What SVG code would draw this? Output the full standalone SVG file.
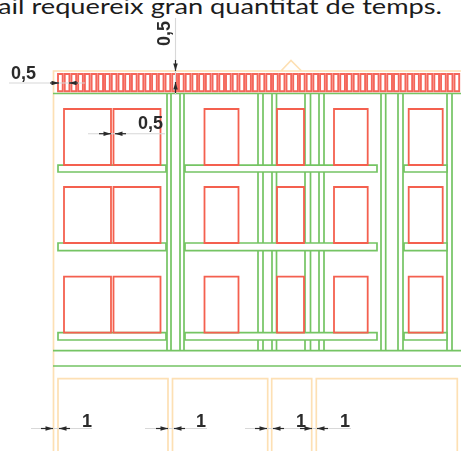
<svg xmlns="http://www.w3.org/2000/svg" width="461" height="451" viewBox="0 0 461 451">
<defs>
<marker id="ah" viewBox="0 0 10 6" refX="10" refY="3" markerWidth="9" markerHeight="4.500" markerUnits="userSpaceOnUse" orient="auto"><path d="M0 0L10 3L0 6Z" fill="#2b2b2b"/></marker>
<path id="tile" d="M0 0h4.720v17.200h-4.720z"/>
<filter id="soft" x="-5%" y="-5%" width="110%" height="110%"><feGaussianBlur stdDeviation="0.4"/></filter>
</defs>
<style>
.o{fill:none;stroke:#fde0b4;stroke-width:1.7}
.g{fill:none;stroke:#74c463;stroke-width:1.7}
.b{fill:#fff;stroke:#74c463;stroke-width:1.7}
.r{fill:none;stroke:#f4604f;stroke-width:1.8}
.t{fill:#fff;stroke:#f4665a;stroke-width:1.9}
.d{stroke:#d8d8d8;stroke-width:1.100;fill:none}
.a{stroke:#2b2b2b;stroke-width:1.200;fill:none;marker-end:url(#ah)}
.l{font-family:"Liberation Sans",Arial,sans-serif;font-weight:700;font-size:18px;fill:#2b2b2b}
</style>
<rect width="461" height="451" fill="#fff"/>
<text x="-2" y="14" font-family="Lato,'Open Sans',sans-serif" font-size="22" fill="#1c1c1c" textLength="444" lengthAdjust="spacingAndGlyphs">ail requereix gran quantitat de temps.</text>
<g filter="url(#soft)">
<g id="facade-outline">
<path class="o" d="M53.500 451V71H461M281 71L291 60.500L301.500 71"/>
<path class="o" d="M58 451V378.700H168V451M172.500 451V378.700H267.700V451M271.700 451V378.700H311.700V451M316.300 451V378.700H457.300V451"/>
</g>
<g id="structure">
<path class="g" d="M53 93.500H461M53 350.700H461M53 366H461"/>
<path class="g" d="M167 94V351M171 94V351M180 94V351M184 94V351M258 94V351M263 94V351M272 94V351M276.500 94V351M305 94V351M310.500 94V351M319 94V351M324 94V351M381 94V351M385.700 94V351M398 94V351M403 94V351M447 94V351M452 94V351"/>
<path class="b" d="M58 165.200H166V172H58ZM58 243H166V250.700H58ZM58 332.700H166V340H58Z"/>
<path class="b" d="M185 165.200H377V172H185ZM185 243H377V250.700H185ZM185 332.700H377V340H185Z"/>
<path class="b" d="M404 165.200H447V172H404ZM404 243H447V250.700H404ZM404 332.700H447V340H404Z"/>
</g>
<g id="roof-tiles">
<use class="t" href="#tile" x="58.000" y="74"/><use class="t" href="#tile" x="64.720" y="74"/><use class="t" href="#tile" x="71.440" y="74"/><use class="t" href="#tile" x="78.160" y="74"/><use class="t" href="#tile" x="84.880" y="74"/><use class="t" href="#tile" x="91.600" y="74"/><use class="t" href="#tile" x="98.320" y="74"/><use class="t" href="#tile" x="105.040" y="74"/><use class="t" href="#tile" x="111.760" y="74"/><use class="t" href="#tile" x="118.480" y="74"/><use class="t" href="#tile" x="125.200" y="74"/><use class="t" href="#tile" x="131.920" y="74"/><use class="t" href="#tile" x="138.640" y="74"/><use class="t" href="#tile" x="145.360" y="74"/><use class="t" href="#tile" x="152.080" y="74"/><use class="t" href="#tile" x="158.800" y="74"/><use class="t" href="#tile" x="165.520" y="74"/><use class="t" href="#tile" x="172.240" y="74"/><use class="t" href="#tile" x="178.960" y="74"/><use class="t" href="#tile" x="185.680" y="74"/><use class="t" href="#tile" x="192.400" y="74"/><use class="t" href="#tile" x="199.120" y="74"/><use class="t" href="#tile" x="205.840" y="74"/><use class="t" href="#tile" x="212.560" y="74"/><use class="t" href="#tile" x="219.280" y="74"/><use class="t" href="#tile" x="226.000" y="74"/><use class="t" href="#tile" x="232.720" y="74"/><use class="t" href="#tile" x="239.440" y="74"/><use class="t" href="#tile" x="246.160" y="74"/><use class="t" href="#tile" x="252.880" y="74"/><use class="t" href="#tile" x="259.600" y="74"/><use class="t" href="#tile" x="266.320" y="74"/><use class="t" href="#tile" x="273.040" y="74"/><use class="t" href="#tile" x="279.760" y="74"/><use class="t" href="#tile" x="286.480" y="74"/><use class="t" href="#tile" x="293.200" y="74"/><use class="t" href="#tile" x="299.920" y="74"/><use class="t" href="#tile" x="306.640" y="74"/><use class="t" href="#tile" x="313.360" y="74"/><use class="t" href="#tile" x="320.080" y="74"/><use class="t" href="#tile" x="326.800" y="74"/><use class="t" href="#tile" x="333.520" y="74"/><use class="t" href="#tile" x="340.240" y="74"/><use class="t" href="#tile" x="346.960" y="74"/><use class="t" href="#tile" x="353.680" y="74"/><use class="t" href="#tile" x="360.400" y="74"/><use class="t" href="#tile" x="367.120" y="74"/><use class="t" href="#tile" x="373.840" y="74"/><use class="t" href="#tile" x="380.560" y="74"/><use class="t" href="#tile" x="387.280" y="74"/><use class="t" href="#tile" x="394.000" y="74"/><use class="t" href="#tile" x="400.720" y="74"/><use class="t" href="#tile" x="407.440" y="74"/><use class="t" href="#tile" x="414.160" y="74"/><use class="t" href="#tile" x="420.880" y="74"/><use class="t" href="#tile" x="427.600" y="74"/><use class="t" href="#tile" x="434.320" y="74"/><use class="t" href="#tile" x="441.040" y="74"/><use class="t" href="#tile" x="447.760" y="74"/><use class="t" href="#tile" x="454.480" y="74"/>
</g>
<g id="windows">
<path class="r" d="M64 109H111V165H64ZM113.500 109H160.500V165H113.500ZM204.500 109H238.500V165H204.500ZM277 109H304V165H277ZM334 109H367.700V165H334ZM408.700 109H442.700V165H408.700Z"/>
<path class="r" d="M64 187H111V243H64ZM113.500 187H160.500V243H113.500ZM204.500 187H238.500V243H204.500ZM277 187H304V243H277ZM334 187H367.700V243H334ZM408.700 187H442.700V243H408.700Z"/>
<path class="r" d="M64 276.700H111V332.700H64ZM113.500 276.700H160.500V332.700H113.500ZM204.500 276.700H238.500V332.700H204.500ZM277 276.700H304V332.700H277ZM334 276.700H367.700V332.700H334ZM408.700 276.700H442.700V332.700H408.700Z"/>
</g>
<g id="dimensions">
<path class="d" d="M9 83H85M175.500 18V95M88 133.700H165M31 428.500H92M145 428.500H207M245 428.500H351"/>
<path class="a" d="M50 83H59"/><path class="a" d="M78 83H69"/>
<path class="a" d="M175.500 60V71"/><path class="a" d="M175.500 93V82"/>
<path class="a" d="M99 133.700H111"/><path class="a" d="M126 133.700H115"/>
<path class="a" d="M41 428.500H53"/><path class="a" d="M70 428.500H59"/>
<path class="a" d="M156 428.500H168"/><path class="a" d="M185 428.500H174"/>
<path class="a" d="M255 428.500H267"/><path class="a" d="M284 428.500H273"/>
<path class="a" d="M300 428.500H312"/><path class="a" d="M328 428.500H317"/>
<text class="l" x="11" y="78.500">0,5</text>
<text class="l" x="138" y="128.500">0,5</text>
<text class="l" transform="translate(170 46) rotate(-90)">0,5</text>
<text class="l" x="82" y="427">1</text>
<text class="l" x="196" y="427">1</text>
<text class="l" x="296" y="427">1</text>
<text class="l" x="340" y="427">1</text>
</g>
</g>
</svg>
